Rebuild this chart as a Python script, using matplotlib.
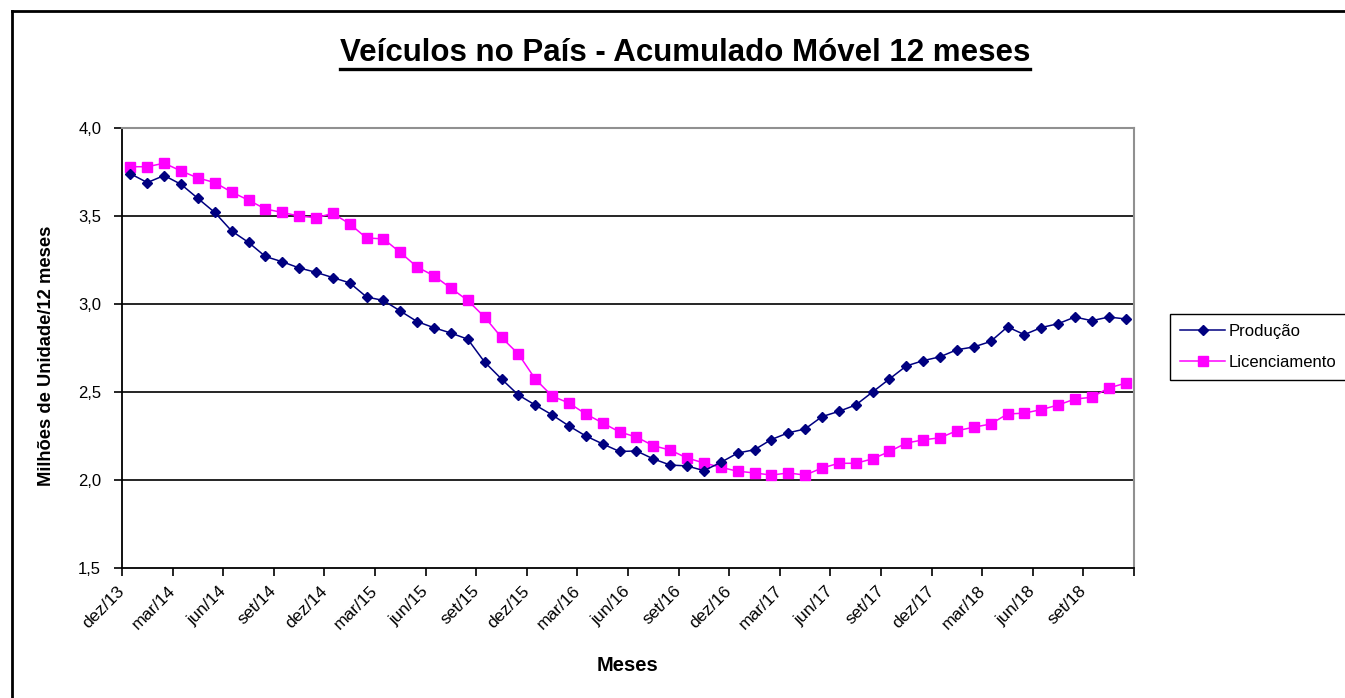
import matplotlib
matplotlib.use("Agg")
import matplotlib.pyplot as plt
import matplotlib.transforms as mtransforms
from matplotlib.lines import Line2D
import numpy as np

plt.rcParams["font.family"] = ["Liberation Sans", "DejaVu Sans"]

# 60 months, dez/13 .. nov/18 (rolling 12-month totals, millions of units)
producao = [
    3.74, 3.69, 3.73, 3.68, 3.60, 3.52, 3.415, 3.35, 3.27, 3.24,
    3.205, 3.18, 3.15, 3.12, 3.04, 3.02, 2.96, 2.90, 2.865, 2.835,
    2.80, 2.67, 2.574, 2.483, 2.426, 2.37, 2.307, 2.25, 2.205, 2.162,
    2.165, 2.12, 2.085, 2.08, 2.053, 2.10, 2.153, 2.172, 2.23, 2.268,
    2.29, 2.36, 2.39, 2.426, 2.50, 2.574, 2.648, 2.678, 2.70, 2.74,
    2.756, 2.787, 2.87, 2.826, 2.866, 2.888, 2.926, 2.905, 2.926, 2.915,
]
licenciamento = [
    3.78, 3.78, 3.80, 3.756, 3.716, 3.69, 3.636, 3.59, 3.54, 3.52,
    3.50, 3.49, 3.515, 3.455, 3.375, 3.37, 3.293, 3.21, 3.16, 3.09,
    3.02, 2.926, 2.81, 2.716, 2.574, 2.477, 2.437, 2.375, 2.324, 2.273,
    2.244, 2.195, 2.17, 2.125, 2.097, 2.072, 2.05, 2.04, 2.028, 2.04,
    2.028, 2.068, 2.095, 2.095, 2.12, 2.162, 2.21, 2.228, 2.24, 2.28,
    2.30, 2.318, 2.375, 2.38, 2.40, 2.426, 2.46, 2.47, 2.523, 2.55,
]
meses_ab = ["dez", "mar", "jun", "set"]
anos = ["13", "14", "14", "14", "14", "15", "15", "15", "15", "16", "16", "16", "16",
        "17", "17", "17", "17", "18", "18", "18"]
tick_labels = [f"{meses_ab[i % 4]}/{a}" for i, a in enumerate(anos)]
yticks = [1.5, 2.0, 2.5, 3.0, 3.5, 4.0]

W, H = 1345, 698
fig = plt.figure(figsize=(W / 100, H / 100), dpi=100)
ax = fig.add_axes([122 / W, 1 - 568 / H, (1134 - 122) / W, (568 - 128) / H])

x = np.arange(len(producao))
ax.plot(x, producao, color="#000080", lw=1.1, marker="D", ms=5.5,
        label="Produção", zorder=4)
ax.plot(x, licenciamento, color="#FF00FF", lw=1.1, marker="s", ms=7,
        label="Licenciamento", zorder=3)

ax.set_xlim(-0.5, len(producao) - 0.5)
ax.set_ylim(1.5, 4.0)
ax.set_yticks(yticks)
ax.set_yticklabels([f"{v:.1f}".replace(".", ",") for v in yticks], fontsize=12)
for v in yticks[1:-1]:
    ax.axhline(v, color="black", lw=1.2, zorder=1)

ticks = np.arange(-0.5, len(producao), 3)
ax.set_xticks(ticks)
ax.set_xticklabels(tick_labels + [""], rotation=45, ha="right", va="top",
                   rotation_mode="anchor", fontsize=12.5)
ax.tick_params(axis="x", direction="out", length=6, width=1.2, pad=5)
ax.tick_params(axis="y", direction="out", length=6, width=1.2, pad=9)
shift = mtransforms.ScaledTranslation(-5 / 100, 0, fig.dpi_scale_trans)
for lab in ax.get_xticklabels():
    lab.set_transform(lab.get_transform() + shift)

for s in ("left", "bottom"):
    ax.spines[s].set_color("black")
    ax.spines[s].set_linewidth(1.3)
for s in ("top", "right"):
    ax.spines[s].set_color("#909090")
    ax.spines[s].set_linewidth(1.5)

ax.set_xlabel("Meses", fontsize=14.5, fontweight="bold", labelpad=17)
ax.set_ylabel("Milhões de Unidade/12 meses", fontsize=13.2, fontweight="bold")
ax.yaxis.set_label_coords((55 - 122) / 1012, (568 - 356) / 440)

title = fig.text(685 / W, 1 - 53 / H, "Veículos no País - Acumulado Móvel 12 meses",
                 ha="center", va="center", fontsize=22.5, fontweight="bold")
fig.canvas.draw()
bb = title.get_window_extent(fig.canvas.get_renderer())
uy = (bb.y0 - 1) / H
fig.add_artist(Line2D([bb.x0 / W, bb.x1 / W], [uy, uy], color="black", lw=2.4))

# outer chart frame (cropped at right and bottom)
fig.add_artist(Line2D([12 / W, 12 / W], [0, 1 - 11 / H], color="black", lw=2))
fig.add_artist(Line2D([12 / W, 1], [1 - 11 / H, 1 - 11 / H], color="black", lw=2))

fig.legend(loc="upper left", bbox_to_anchor=(1170 / W, 1 - 314 / H), fontsize=12,
           frameon=True, fancybox=False, edgecolor="black", framealpha=1,
           handlelength=2.7, handletextpad=0.2, borderpad=0.6, labelspacing=0.95,
           borderaxespad=0)

fig.savefig("out.png", dpi=100)
